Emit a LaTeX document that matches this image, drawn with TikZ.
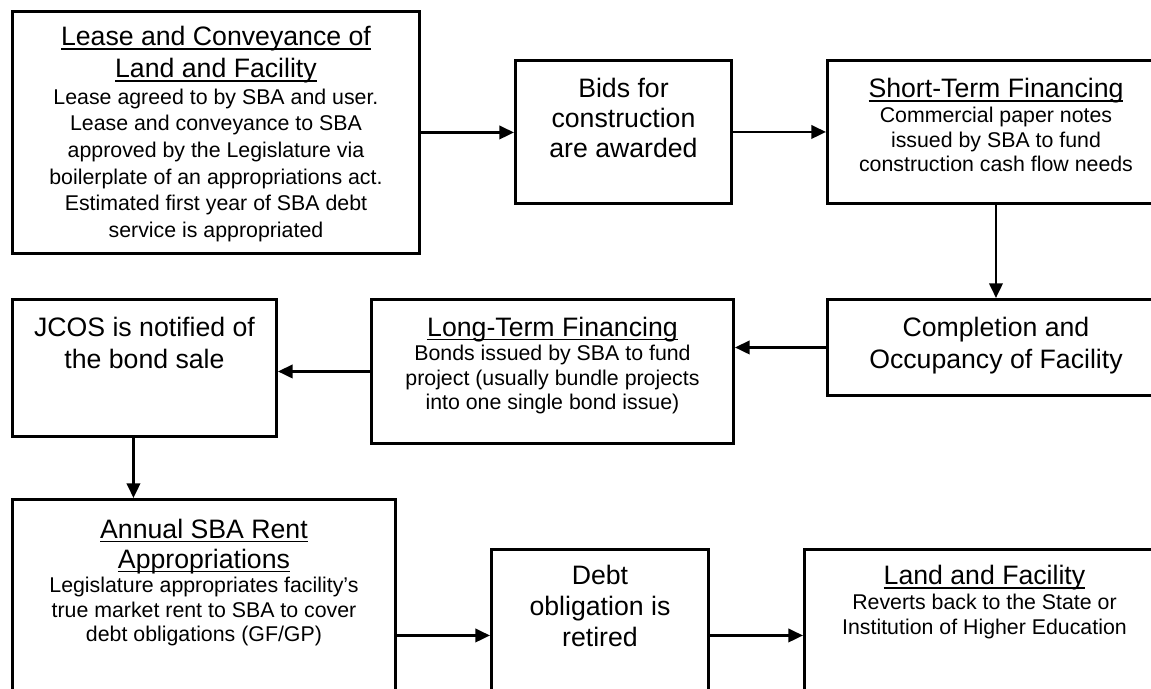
\documentclass[tikz,border=0pt]{standalone}
\usepackage{fontspec}
\setmainfont{Liberation Sans}
\usetikzlibrary{arrows.meta}
\setlength{\parskip}{0pt}
\newcommand{\flowbox}[4]{\parbox[c][#2][t]{#1}{\centering\rule{0pt}{#3}#4}}
\newsavebox{\flowulbox}
\newcommand{\flowul}[1]{\leavevmode\sbox{\flowulbox}{#1}\rlap{\rule[-3.3pt]{\wd\flowulbox}{1.4pt}}\usebox{\flowulbox}}
\begin{document}
\begin{tikzpicture}[x=0.75pt,y=-0.75pt,
  stepbox/.style={draw, line width=2.2pt, inner sep=0pt, anchor=north west},
  arr/.style={line width=2pt, -{Triangle[length=11pt,width=10pt]}}]
\useasboundingbox (0,0) rectangle (1151,688);
\fill[white] (0,0) rectangle (1151,688);
\clip (0,0) rectangle (1151,688);

\node[stepbox] (b1) at (11,10) {\flowbox{305.25pt}{181.5pt}{25.5pt}{%
  {\fontsize{20}{24}\selectfont\flowul{Lease and Conveyance of}\\\flowul{Land and Facility}\par}%
  {\fontsize{16}{20}\selectfont Lease agreed to by SBA and user.\\Lease and conveyance to SBA\\approved by the Legislature via\\boilerplate of an appropriations act.\\Estimated first year of SBA debt\\service is appropriated\par}}};

\node[stepbox] (b2) at (514,59) {\flowbox{162pt}{107.25pt}{28pt}{%
  {\fontsize{20}{22.5}\selectfont Bids for\\construction\\are awarded\par}}};

\node[stepbox] (b3) at (826,59) {\flowbox{252.75pt}{107.25pt}{28pt}{%
  {\fontsize{20}{24}\selectfont\flowul{Short-Term Financing}\par}%
  {\fontsize{16}{18.5}\selectfont Commercial paper notes\\issued by SBA to fund\\construction cash flow needs\par}}};

\node[stepbox] (b4) at (826,298) {\flowbox{252.75pt}{72pt}{27.4pt}{%
  {\fontsize{20}{24}\selectfont Completion and\\Occupancy of Facility\par}}};

\node[stepbox] (b5) at (370,298) {\flowbox{271.5pt}{108pt}{27.4pt}{%
  {\fontsize{20}{24}\selectfont\flowul{Long-Term Financing}\par}%
  {\fontsize{16}{18.4}\selectfont Bonds issued by SBA to fund\\project (usually bundle projects\\into one single bond issue)\par}}};

\node[stepbox] (b6) at (11,298) {\flowbox{198pt}{102.75pt}{27.4pt}{%
  {\fontsize{20}{24}\selectfont JCOS is notified of\\the bond sale\par}}};

\node[stepbox] (b7) at (11,498) {\flowbox{287.25pt}{204pt}{28.9pt}{%
  {\fontsize{20}{22.5}\selectfont\flowul{Annual SBA Rent}\\\flowul{Appropriations}\par}%
  {\fontsize{16}{18.4}\selectfont Legislature appropriates facility’s\\true market rent to SBA to cover\\debt obligations (GF/GP)\par}}};

\node[stepbox] (b8) at (490,548) {\flowbox{162.75pt}{129pt}{26.25pt}{%
  {\fontsize{20}{23.25}\selectfont Debt\\obligation is\\retired\par}}};

\node[stepbox] (b9) at (803,548) {\flowbox{270pt}{129pt}{26.25pt}{%
  {\fontsize{20}{24}\selectfont\flowul{Land and Facility}\par}%
  {\fontsize{16}{18.75}\selectfont Reverts back to the State or\\Institution of Higher Education\par}}};

\draw[arr] (b1.east) -- (b1.east -| b2.west);
\draw[arr] (b2.east) -- (b3.west);
\draw[arr] (b3.south) -- (b4.north);
\draw[arr] (b4.west) -- (b4.west -| b5.east);
\draw[arr] (b5.west) -- (b5.west -| b6.east);
\draw[arr] ([xshift=-8.25pt]b6.south) -- ([xshift=-8.25pt]b6.south |- b7.north);
\draw[arr] (b8.west -| b7.east) -- (b8.west);
\draw[arr] (b8.east) -- (b9.west);
\end{tikzpicture}
\end{document}
